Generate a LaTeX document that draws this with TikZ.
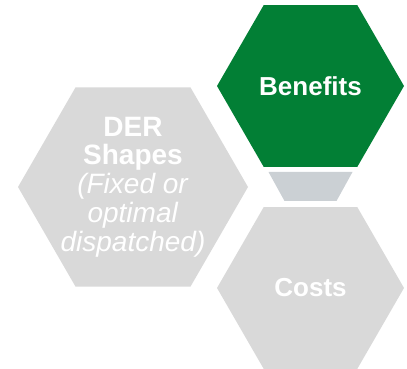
\documentclass[tikz,border=0pt]{standalone}
\usepackage{fontspec}
\setmainfont{Liberation Sans}
\usetikzlibrary{shapes.geometric,positioning}
\definecolor{hexgreen}{RGB}{2,127,53}
\definecolor{hexgray}{RGB}{217,217,217}
\definecolor{linkgray}{RGB}{203,208,212}
\tikzstyle{hexa} = [regular polygon,
                    regular polygon sides=6,
                    inner sep=0pt,
                    outer sep=0pt,
                    align=center,
                    text=white,
                    fill=hexgray]

\begin{document}
\begin{tikzpicture}[x=1pt, y=-1pt,
                      node distance=40pt,
                      font=\fontsize{26}{30}\selectfont\bfseries]
    \useasboundingbox (0,0) rectangle (407,369);
    \node (ben) at (310.5,86) [hexa, fill=hexgreen, minimum size=187pt] {Benefits};
    \node (cost) [below =of ben] [hexa, minimum size=187pt] {Costs};
    \node (der) at (133,187) [hexa, minimum size=230pt] {};
    \node (dertxt) at (der) [align=center, text=white, inner sep=0pt,
      font=\fontsize{28}{28.75}\selectfont]
      {\textbf{DER}\\\textbf{Shapes}\\\textit{(Fixed or}\\\textit{optimal}\\\textit{dispatched)}};
    % link between benefits and costs
    \fill[linkgray] ([shift={(-42pt,-5pt)}]ben.south) -- ([shift={(42pt,-5pt)}]ben.south)
      -- ([shift={(26pt,-34pt)}]ben.south) -- ([shift={(-26pt,-34pt)}]ben.south) -- cycle;
\end{tikzpicture}
\end{document}
